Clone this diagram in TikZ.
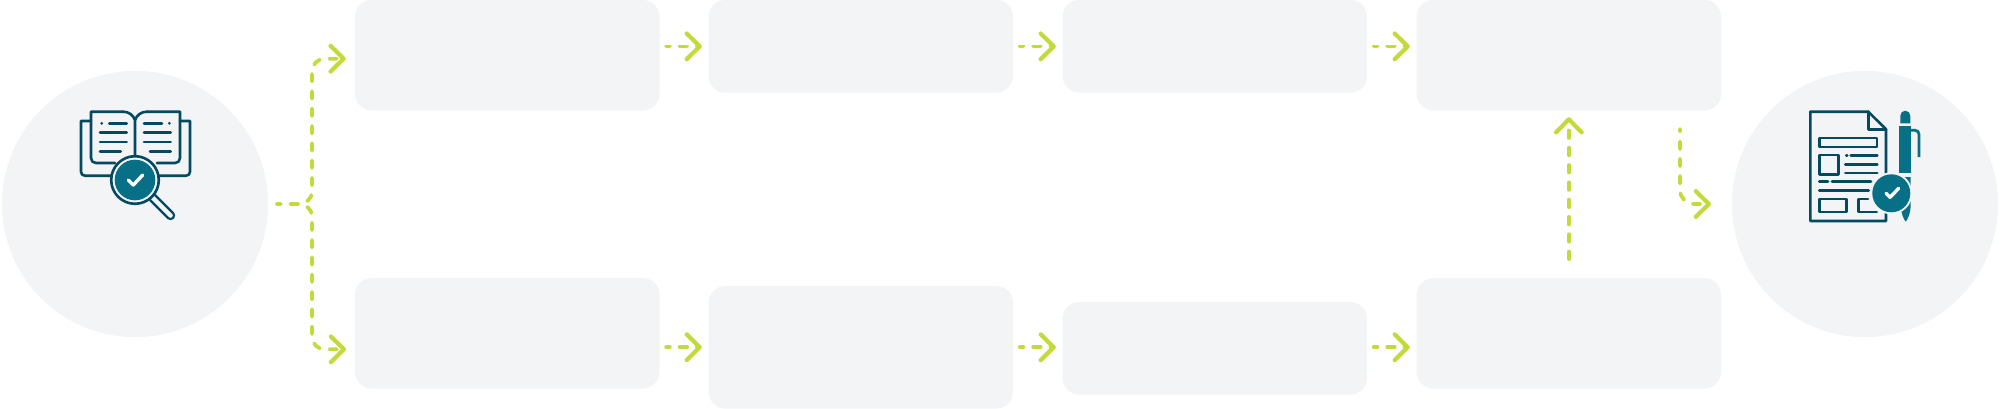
\documentclass[tikz,border=0pt]{standalone}
\usepackage{xcolor}
\usetikzlibrary{calc,arrows.meta}
\definecolor{panelgray}{HTML}{F3F4F6}
\definecolor{limeflow}{HTML}{C3DA3A}
\definecolor{inkteal}{HTML}{03495F}
\definecolor{discteal}{HTML}{087086}
\tikzset{
  panel/.style={fill=panelgray,rounded corners=4.8pt,inner sep=0pt,outer sep=0pt,minimum width=3.045cm},
  disc/.style={circle,fill=panelgray,inner sep=0pt,outer sep=0pt,minimum size=2.66cm},
  flow/.style={limeflow,line width=1.05pt,line cap=round,dash pattern=on 2.15pt off 2.77pt,
    -{Straight Barb[length=3.7pt,width=7.3pt,round,line width=1.2pt]}},
  flowstub/.style={flow,dash phase=1.1pt},
  inkline/.style={inkteal,line width=0.74pt,line cap=round,line join=round},
  tickline/.style={white,line width=0.95pt,line cap=round,line join=round},
}
\begin{document}
\begin{tikzpicture}[x=0.01cm,y=-0.01cm]
\useasboundingbox (0,0) rectangle (2002,409);
\node[disc] (start) at (135,204) {};
\node[disc] (finish) at (1865,204) {};
\node[panel,minimum height=1.105cm] (stepa) at (507.25,55.25) {};
\node[panel,minimum height=0.927cm] (stepb) at (860.85,46.35) {};
\node[panel,minimum height=0.927cm] (stepc) at (1214.85,46.35) {};
\node[panel,minimum height=1.105cm] (stepd) at (1568.85,55.25) {};
\node[panel,minimum height=1.105cm] (stepe) at (507.25,333.25) {};
\node[panel,minimum height=1.225cm] (stepf) at (860.85,347.25) {};
\node[panel,minimum height=0.927cm] (stepg) at (1214.85,348.35) {};
\node[panel,minimum height=1.105cm] (steph) at (1568.85,333.35) {};
\coordinate (fork) at (312,204);
\coordinate (ina) at (345.7,58.7);
\coordinate (inb) at (346,349.3);
\coordinate (outd) at (1680,129);
\draw[flowstub,shorten <=2.56pt,rounded corners=3.6pt] (start.east) -- (fork) |- (ina);
\draw[flowstub,shorten <=2.56pt,rounded corners=3.6pt] (start.east) -- (fork) |- (inb);
\draw[flowstub,shorten <=1.85pt,shorten >=1.9pt] (stepa.east |- stepb.west) -- (stepb.west);
\draw[flowstub,shorten <=1.85pt,shorten >=1.9pt] (stepb.east) -- (stepc.west);
\draw[flowstub,shorten <=1.85pt,shorten >=1.9pt] (stepc.east) -- (stepd.west |- stepc.east);
\draw[flowstub,shorten <=1.85pt,shorten >=1.9pt] (stepe.east |- stepf.west) -- (stepf.west);
\draw[flowstub,shorten <=1.85pt,shorten >=1.9pt] (stepf.east) -- (stepg.west |- stepf.east);
\draw[flowstub,shorten <=1.85pt,shorten >=1.9pt] (stepg.east |- stepf.east) -- (steph.west |- stepf.east);
\draw[flow,shorten <=5.4pt,shorten >=1.9pt] (steph.north) -- (stepd.south);
\draw[flow,dash phase=1.4pt,shorten >=5.97pt,rounded corners=4pt] (outd) |- (finish.west);
\draw[inkline] (91,121) -- (81,121) -- (81,171.7) .. controls (81,174.2) and (82.5,175.7) .. (85,175.7) -- (112,175.7);
\draw[inkline] (180,121) -- (190,121) -- (190,171.7) .. controls (190,174.2) and (188.5,175.7) .. (186,175.7) -- (159,175.7);
\draw[inkline] (115,163) -- (96,163) .. controls (93,163) and (91,161) .. (91,158) -- (91,111.7) -- (123,111.7);
\draw[inkline] (157,163) -- (175,163) .. controls (178,163) and (180,161) .. (180,158) -- (180,111.7) -- (147,111.7);
\draw[inkline] (123,111.7) .. controls (129,111.7) and (133,115) .. (135,120) -- (135,156);
\draw[inkline] (147,111.7) .. controls (141,111.7) and (137,115) .. (135,120);
\foreach \lineleft/\lineright/\liney in {109.3/126.7/123.3,100/126.7/132.7,100/126.7/142,100/120.7/151.7,144/162/123.3,144/170.7/132.7,144/170.7/142,150/170.7/151.7}
  \draw[inkline] (\lineleft,\liney) -- (\lineright,\liney);
\fill[inkteal] (101.7,123.3) circle (1.5) (169.3,123.3) circle (1.5);
\draw[inkteal,line width=2.7pt,line cap=round] (153,198) -- (170.5,215.5);
\draw[panelgray,line width=1.3pt,line cap=round] (153,198) -- (170.5,215.5);
\fill[panelgray] (135,180) circle (24);
\draw[inkline] (135,180) circle (23.8);
\fill[discteal] (135,180) circle (20.3);
\draw[tickline] (128.3,180) -- (133.3,185) -- (142.7,175);
\draw[inkline] (1886,175) -- (1886,129.3) -- (1868.3,111.7) -- (1810.3,111.7) -- (1810.3,221) -- (1886,221) -- (1886,211);
\draw[inkline] (1868.3,111.7) -- (1868.3,129.3) -- (1886,129.3);
\draw[inkline] (1819.5,138) rectangle (1877,147);
\draw[inkline] (1819.3,155) rectangle (1838.3,174.3);
\draw[inkline] (1819.3,199) rectangle (1846.7,212);
\draw[inkline] (1868,199) -- (1858.3,199) -- (1858.3,212) -- (1876.7,212);
\foreach \lineleft/\lineright/\liney in {1846.2/1847.2/155.7,1850.7/1877.3/155.7,1845.3/1877.3/164.3,1845.3/1877.3/173,1819.3/1828/181.7,1832/1871/181.7,1819.3/1868.7/190.3}
  \draw[inkline] (\lineleft,\liney) -- (\lineright,\liney);
\fill[discteal] (1900.3,123.3) -- (1900.3,115.7) arc[start angle=180,end angle=0,radius=5,y radius=-5] -- (1910.3,123.3) -- cycle;
\fill[discteal] (1899.3,126) rectangle (1910.7,173);
\fill[discteal] (1899.3,177) -- (1910.7,177) -- (1910.7,206) .. controls (1910.5,213) and (1908,219) .. (1905.7,221.7) .. controls (1903.5,219) and (1901,213) .. (1900.8,206) -- cycle;
\draw[discteal,line width=0.8pt,line join=round] (1911,130.3) -- (1915,130.3) .. controls (1917.5,130.3) and (1919,132) .. (1919,134.5) -- (1919,157);
\fill[panelgray] (1891.3,193.3) circle (21);
\fill[discteal] (1891.3,193.3) circle (19);
\draw[tickline] (1886,193.3) -- (1890,197.3) -- (1898.7,188.3);
\end{tikzpicture}
\end{document}
